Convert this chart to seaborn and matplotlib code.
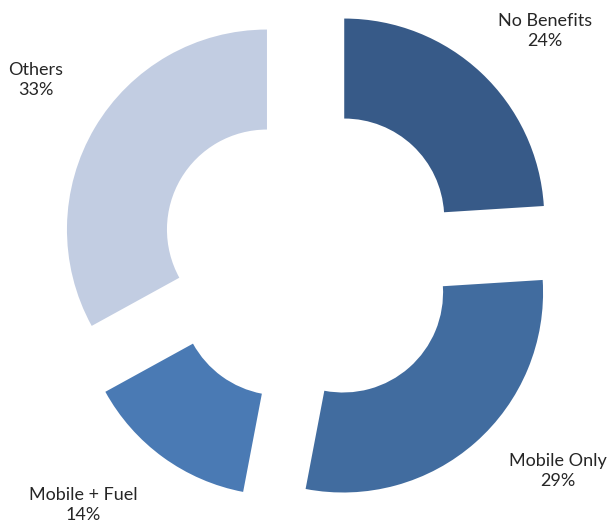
import matplotlib
matplotlib.use("Agg")
import matplotlib.pyplot as plt
import seaborn as sns

categories = ["No Benefits", "Mobile Only", "Mobile + Fuel", "Others"]
values = [24, 29, 14, 33]
pct_labels = ["24%", "29%", "14%", "33%"]
colors = ["#375A88", "#416C9F", "#4A7AB4", "#C2CDE2"]

sns.set_theme(style="white")
plt.rcParams["font.family"] = ["Lato", "DejaVu Sans"]

fig = plt.figure(figsize=(6.11, 5.28), dpi=100)
ax = fig.add_axes([0, 0, 1, 1])
ax.pie(values, colors=sns.color_palette(colors), startangle=90, counterclock=False,
       radius=1.0, explode=[0.25] * len(values),
       wedgeprops=dict(width=0.5, edgecolor="none", linewidth=0))
ax.set_xlim(-1.55, 1.505)
ax.set_ylim(-1.365, 1.275)
ax.set_aspect("equal")
ax.axis("off")

label_pos = [(1.175, 1.12), (1.24, -1.08), (-1.135, -1.25), (-1.37, 0.875)]
for cat, pct, (x, y) in zip(categories, pct_labels, label_pos):
    ax.text(x, y, f"{cat}\n{pct}", ha="center", va="center", fontsize=13,
            color="#262626", linespacing=1.3)

fig.savefig("out.png", dpi=100, facecolor="white")
